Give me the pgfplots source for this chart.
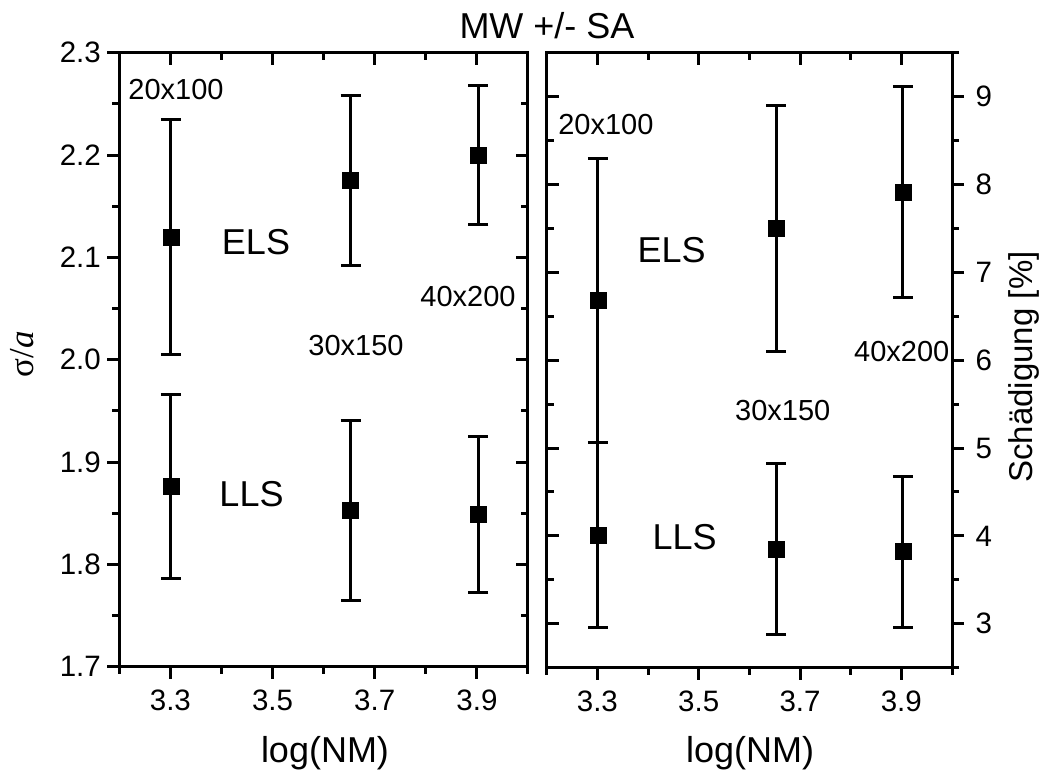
\documentclass[border=0pt]{standalone}
\usepackage{pgfplots}
\pgfplotsset{compat=1.18}
\usepackage{pgfplotstable}
\usepackage{fontspec}
\setmainfont{Liberation Sans}
\newfontfamily\serifrm{Liberation Serif}

\pgfplotstableread{
x y e
3.301 2.120 0.115
3.653 2.175 0.083
3.903 2.200 0.068
}\leftELS
\pgfplotstableread{
x y e
3.301 1.876 0.090
3.653 1.853 0.088
3.903 1.849 0.076
}\leftLLS
\pgfplotstableread{
x y e
3.301 6.68 1.62
3.653 7.50 1.40
3.903 7.91 1.20
}\rightELS
\pgfplotstableread{
x y e
3.301 4.01 1.05
3.653 3.85 0.97
3.903 3.82 0.86
}\rightLLS

\pgfplotsset{
  base/.style={scale only axis, anchor=south west,
    xmin=3.2, xmax=4.0,
    xtick={3.3,3.5,3.7,3.9}, minor xtick={3.2,3.4,3.6,3.8,4.0},
    major tick length=12pt, minor tick length=7pt,
    axis line style={line width=3pt, line cap=rect},
    tick style={black, line width=3pt},
    tick label style={font=\fontsize{29.5}{32}\selectfont},
    xticklabel style={yshift=-8pt, /pgf/number format/.cd, fixed, fixed zerofill, precision=1, assume math mode=true},
  },
  mirror/.style={tick align=inside, xtick pos=top, xticklabels={}, yticklabels={}},
  errp/.style={only marks, mark=square*, black, mark size=8pt, mark options={line width=0.5pt},
    error bars/.cd, y dir=both, y explicit,
    error bar style={line width=3pt},
    error mark options={rotate=90, mark size=10pt, line width=3pt}},
}
\tikzset{
  ann/.style={font=\fontsize{29}{32}\selectfont},
  big/.style={font=\fontsize{36}{40}\selectfont},
}

\begin{document}
\begin{tikzpicture}
\path[use as bounding box] (0pt,0pt) rectangle (1048pt,-775pt);
% ---------- left panel ----------
\begin{axis}[base, at={(119.3pt,-666.7pt)}, width=408.7pt, height=614pt,
  ymin=1.7, ymax=2.3, ytick={1.7,1.8,1.9,2.0,2.1,2.2,2.3},
  minor ytick={1.75,1.85,1.95,2.05,2.15,2.25},
  tick align=outside, xtick pos=bottom, ytick pos=left,
  yticklabel style={xshift=-3pt, /pgf/number format/.cd, fixed, fixed zerofill, precision=1, assume math mode=true}]
\addplot+[errp] table[x=x, y=y, y error=e] {\leftELS};
\addplot+[errp] table[x=x, y=y, y error=e] {\leftLLS};
\node[ann] at (axis cs:3.311,2.2636) {20x100};
\node[big] at (axis cs:3.4676,2.115) {ELS};
\node[big] at (axis cs:3.4588,1.8688) {LLS};
\node[ann] at (axis cs:3.6633,2.0134) {30x150};
\node[ann] at (axis cs:3.8825,2.0613) {40x200};
\end{axis}
\begin{axis}[base, mirror, at={(119.3pt,-666.7pt)}, width=408.7pt, height=614pt,
  ymin=1.7, ymax=2.3, ytick={1.7,1.8,1.9,2.0,2.1,2.2,2.3},
  minor ytick={1.75,1.85,1.95,2.05,2.15,2.25}, ytick pos=right]
\end{axis}
% ---------- right panel ----------
\begin{axis}[base, at={(546.7pt,-667.7pt)}, width=405.3pt, height=615pt,
  ymin=2.5, ymax=9.5, ytick={3,4,5,6,7,8,9},
  minor ytick={2.5,3.5,4.5,5.5,6.5,7.5,8.5,9.5},
  tick align=outside, xtick pos=bottom, ytick pos=right,
  yticklabel pos=right,
  yticklabel style={xshift=8pt, /pgf/number format/assume math mode=true}]
\addplot+[errp] table[x=x, y=y, y error=e] {\rightELS};
\addplot+[errp] table[x=x, y=y, y error=e] {\rightLLS};
\node[ann] at (axis cs:3.3167,8.677) {20x100};
\node[big] at (axis cs:3.4467,7.254) {ELS};
\node[big] at (axis cs:3.4724,3.984) {LLS};
\node[ann] at (axis cs:3.6659,5.433) {30x150};
\node[ann] at (axis cs:3.9008,6.097) {40x200};
\end{axis}
\begin{axis}[base, mirror, at={(546.7pt,-667.7pt)}, width=405.3pt, height=615pt,
  ymin=2.5, ymax=9.5, ytick={3,4,5,6,7,8,9},
  minor ytick={2.5,3.5,4.5,5.5,6.5,7.5,8.5,9.5}, ytick pos=left]
\end{axis}
% ---------- titles and labels ----------
\node[font=\fontsize{36}{40}\selectfont] at (547pt,-26pt) {MW +/- SA};
\node[font=\fontsize{36}{40}\selectfont] at (325pt,-753pt) {log(NM)};
\node[font=\fontsize{36}{40}\selectfont] at (750pt,-753pt) {log(NM)};
\node[rotate=90, font=\fontsize{35}{38}\selectfont\serifrm] at (22pt,-354pt) {σ/\textit{a}};
\node[rotate=90, font=\fontsize{33}{36}\selectfont] at (1024pt,-367pt) {Schädigung [\%]};
\end{tikzpicture}
\end{document}
